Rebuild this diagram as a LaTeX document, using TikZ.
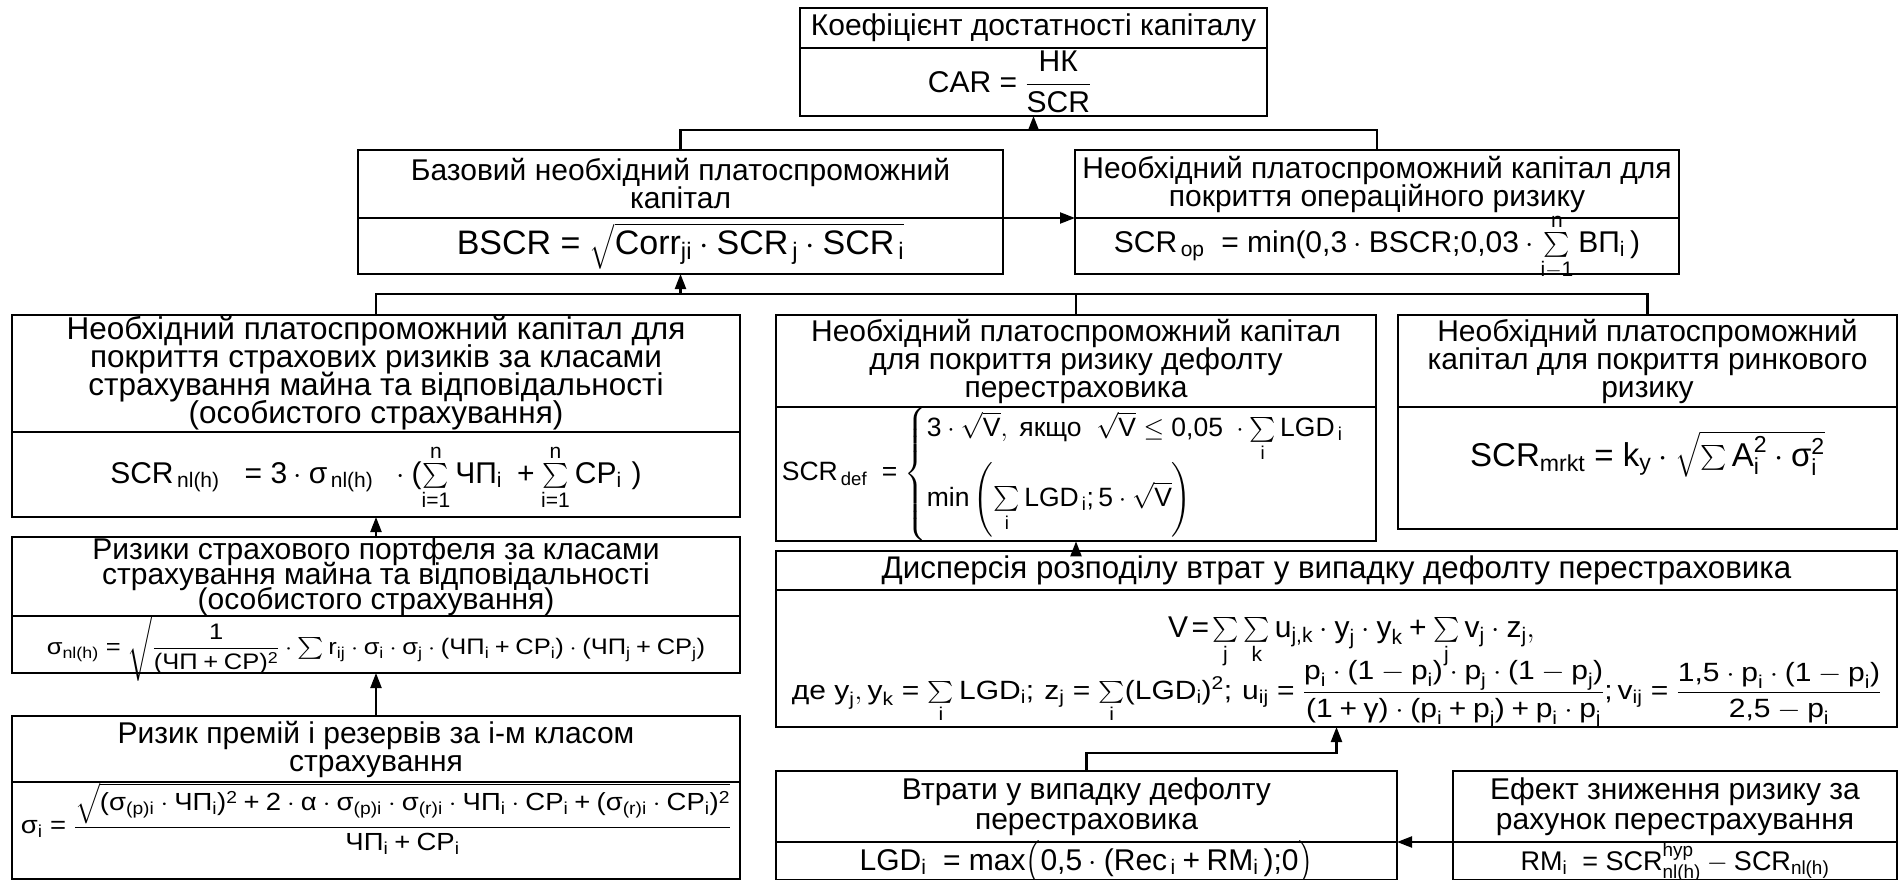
\RequirePackage{fix-cm}
\documentclass[tikz,border=0pt]{standalone}
\usepackage{amsmath}
\usepackage{graphicx}
\usepackage[no-math]{fontspec}
\setmainfont{Liberation Sans}
\DeclareSymbolFont{operators}{\encodingdefault}{\rmdefault}{m}{n}
\usetikzlibrary{arrows.meta}
\newcommand{\tx}[1]{\text{#1}}
\newcommand{\fixv}[2]{\raisebox{#1}[0pt][0pt]{\makebox[0pt]{#2}}}
\newcommand{\tightlines}{\lineskiplimit-20pt\relax}

\begin{document}
\begin{tikzpicture}[x=1pt, y=-1pt, line width=2.2pt, >={Triangle[length=15pt,width=11pt]},
	every node/.style={font=\fontsize{30}{28}\selectfont\tightlines},
	cell/.style 2 args={draw, rectangle, anchor=north west, inner sep=0pt, outer sep=0pt,
		minimum width=#1, minimum height=#2, align=center},
	fs/.style 2 args={font=\fontsize{#1}{#2}\selectfont\tightlines}]
	\useasboundingbox (0,0) rectangle (1899,880);
	% top
	\node[cell={467pt}{40pt}] (carT) at (800,8) {Коефіцієнт достатності капіталу};
	\node[cell={467pt}{68pt}] (carF) at (carT.south west) {$\tx{CAR}=\dfrac{\tx{НК}}{\tx{SCR}}$\hspace*{48pt}};
	% second row
	\node[cell={645pt}{68pt}] (bscrT) at (358,150) {Базовий необхідний платоспроможний\\капітал};
	\node[cell={645pt}{56pt}, fs={34}{28}] (bscrF) at (bscrT.south west) {$\tx{BSCR}=\sqrt{\tx{Corr}_{\tx{ji}}\cdot\tx{SCR}_{\,\tx{j}}\cdot\tx{SCR}_{\,\tx{i}}}$};
	\node[cell={604pt}{68pt}] (opT) at (1075,150) {Необхідний платоспроможний капітал для\\покриття операційного ризику};
	\node[cell={604pt}{56pt}] (opF) at (opT.south west) {\fixv{-6pt}{$\tx{SCR}_{\,\tx{op}}\;=\tx{min(0,3}\cdot\tx{BSCR;0,03}\cdot\sum\limits_{\tx{i}-1}^{\tx{n}}\tx{ВП}_{\tx{i}}\,\tx{)}$}};
	% third row
	\node[cell={728pt}{117pt}, fs={31.5}{28}] (insT) at (12,315) {Необхідний платоспроможний капітал для\\покриття страхових ризиків за класами\\страхування майна та відповідальності\\(особистого страхування)};
	\node[cell={728pt}{85pt}] (insF) at (insT.south west) {\fixv{-8.5pt}{$\tx{SCR}_{\,\tx{nl(h)}}\;\;=3\cdot\tx{σ}_{\,\tx{nl(h)}}\;\;\cdot(\sum\limits_{\tx{i}=1}^{\tx{n}}\tx{ЧП}_{\tx{i}}\;+\sum\limits_{\tx{i}=1}^{\tx{n}}\tx{СР}_{\tx{i}}\,\,)$}};
	\node[cell={600pt}{92pt}] (defT) at (776,315) {Необхідний платоспроможний капітал\\для покриття ризику дефолту\\перестраховика};
	\node[cell={600pt}{122pt}, fs={26.5}{28}] (defF) at (defT.south west) {$\tx{SCR}_{\,\tx{def}}\;=\begin{cases}3\cdot\sqrt{\tx{V}},\ \tx{якщо}\ \ \sqrt{\tx{V}}\le\tx{0,05}\;\cdot\sum\limits_{\tx{i}}\tx{LGD}_{\,\tx{i}}\\[8pt]
		\tx{min}\left(\sum\limits_{\tx{i}}\tx{LGD}_{\,\tx{i}};5\cdot\sqrt{\tx{V}}\right)\end{cases}$};
	\node[cell={499pt}{92pt}] (mktT) at (1398,315) {Необхідний платоспроможний\\капітал для покриття ринкового\\ризику};
	\node[cell={499pt}{122pt}, fs={33}{28}] (mktF) at (mktT.south west) {\fixv{2pt}{$\tx{SCR}_{\tx{mrkt}}=\tx{k}_{\tx{y}}\cdot\sqrt{\sum\tx{A}_{\tx{i}}^2\cdot\tx{σ}_{\tx{i}}^2}$}};
	% left column
	\node[cell={728pt}{79pt}, fs={30}{25}] (portT) at (12,537) {Ризики страхового портфеля за класами\\страхування майна та відповідальності\\(особистого страхування)};
	\node[cell={728pt}{57pt}, fs={25.5}{28}] (portF) at (portT.south west) {\fixv{-10pt}{\scalebox{1}[0.88]{$\tx{σ}_{\tx{nl(h)}}=\sqrt{\dfrac{1}{(\tx{ЧП}+\tx{СР})^2}\cdot\sum\tx{r}_{\tx{ij}}\cdot\tx{σ}_{\tx{i}}\cdot\tx{σ}_{\tx{j}}\cdot(\tx{ЧП}_{\tx{i}}+\tx{СР}_{\tx{i}})\cdot(\tx{ЧП}_{\tx{j}}+\tx{СР}_{\tx{j}})}$}}};
	\node[cell={728pt}{66pt}] (premT) at (12,716) {Ризик премій і резервів за і-м класом\\страхування};
	\node[cell={728pt}{97pt}, fs={27.5}{28}] (premF) at (premT.south west) {\fixv{-3pt}{\scalebox{1}[0.9]{$\tx{σ}_{\tx{i}}=\dfrac{\sqrt{(\tx{σ}_{\tx{(p)i}}\cdot\tx{ЧП}_{\tx{i}})^2+2\cdot\tx{α}\cdot\tx{σ}_{\tx{(p)i}}\cdot\tx{σ}_{\tx{(r)i}}\cdot\tx{ЧП}_{\tx{i}}\cdot\tx{СР}_{\tx{i}}+(\tx{σ}_{\tx{(r)i}}\cdot\tx{СР}_{\tx{i}})^2}}{\tx{ЧП}_{\tx{i}}+\tx{СР}_{\tx{i}}}$}}};
	% right part
	\node[cell={1121pt}{39pt}, fs={31.3}{28}] (dispT) at (776,551) {Дисперсія розподілу втрат у випадку дефолту перестраховика};
	\node[cell={1121pt}{137pt}] (dispF) at (dispT.south west) {\fixv{-10pt}{\hspace*{30pt}$\tx{V}\!=\!\sum\limits_{\tx{j}}\sum\limits_{\tx{k}}\tx{u}_{\tx{j,k}}\cdot\tx{y}_{\tx{j}}\cdot\tx{y}_{\tx{k}}+\sum\limits_{\tx{j}}\tx{v}_{\tx{j}}\cdot\tx{z}_{\tx{j}},$}\\[34pt]
		\fixv{-10pt}{\scalebox{1}[0.88]{$\tx{де }\tx{y}_{\tx{j}},\tx{y}_{\tx{k}}=\sum\limits_{\tx{i}}\tx{LGD}_{\tx{i}};\,\tx{z}_{\tx{j}}=\sum\limits_{\tx{i}}(\tx{LGD}_{\tx{i}})^2;\,\tx{u}_{\tx{ij}}=\dfrac{\tx{p}_{\tx{i}}\cdot(1-\tx{p}_{\tx{i}})\cdot\tx{p}_{\tx{j}}\cdot(1-\tx{p}_{\tx{j}})}{(1+\tx{γ})\cdot(\tx{p}_{\tx{i}}+\tx{p}_{\tx{j}})+\tx{p}_{\tx{i}}\cdot\tx{p}_{\tx{j}}};\tx{v}_{\tx{ij}}=\dfrac{\tx{1,5}\cdot\tx{p}_{\tx{i}}\cdot(1-\tx{p}_{\tx{i}})}{\tx{2,5}-\tx{p}_{\tx{i}}}$}}};
	\node[cell={621pt}{71pt}, fs={30}{30}] (lgdT) at (776,771) {Втрати у випадку дефолту\\перестраховика};
	\node[cell={621pt}{38pt}] (lgdF) at (lgdT.south west) {\fixv{-9pt}{$\tx{LGD}_{\tx{i}}\;=\tx{max}\Bigl(\tx{0,5}\cdot(\tx{Rec}_{\,\tx{i}}+\tx{RM}_{\tx{i}}\,)\tx{;0}\Bigr)$}};
	\node[cell={444pt}{71pt}, fs={30}{30}] (effT) at (1453,771) {Ефект зниження ризику за\\рахунок перестрахування};
	\node[cell={444pt}{38pt}, fs={27}{28}] (effF) at (effT.south west) {\fixv{-9pt}{$\tx{RM}_{\tx{i}}\;=\tx{SCR}^{\tx{hyp}}_{\tx{nl(h)}}-\tx{SCR}_{\tx{nl(h)}}$}};
	% connectors
	\path (bscrT.north) ++(0,-20) coordinate (busA);
	\draw (bscrT.north) -- (busA) -| (opT.north);
	\draw[->] (carF.south |- busA) -- (carF.south);
	\draw[->] (bscrF.north east) -- (opF.north west);
	\path (insT.north) ++(0,-21) coordinate (busB);
	\draw (insT.north) -- (busB) -| (mktT.north);
	\draw (defT.north |- busB) -- (defT.north);
	\draw[->] (bscrF.south |- busB) -- (bscrF.south);
	\draw[->] (portT.north) -- (insF.south);
	\draw[->] (premT.north) -- (portF.south);
	\draw[->] (defF.south |- dispT.north) -- (defF.south);
	\draw[->] (lgdT.north) -- ++(0,-18) -| (dispF.south);
	\draw[->] (effF.north west) -- (lgdF.north east);
\end{tikzpicture}
\end{document}
